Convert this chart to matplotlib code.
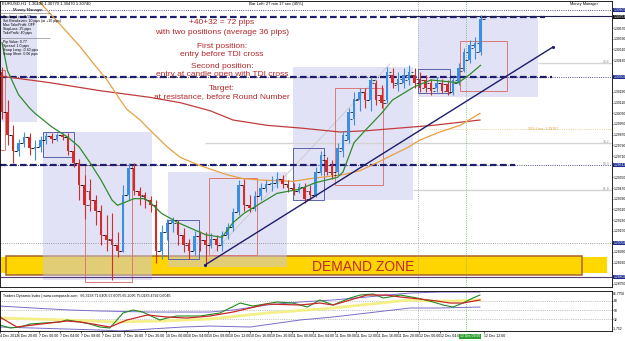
import matplotlib
matplotlib.use("Agg")
import matplotlib.pyplot as plt
from matplotlib.patches import Rectangle
import matplotlib.transforms as mtransforms
import numpy as np

plt.rcParams['font.family'] = ['Liberation Sans', 'DejaVu Sans']

# ---------------- data (EURUSD H1) ----------------
opens = [1.3034, 1.3004, 1.2987, 1.2975, 1.2981, 1.2985, 1.2977, 1.2978, 1.2983, 1.2986,
         1.2984, 1.2987, 1.2985, 1.2975, 1.2966, 1.2949, 1.2945, 1.2938, 1.2930, 1.2912,
         1.2909, 1.2904, 1.2900, 1.2942, 1.2962, 1.2945, 1.2942, 1.2938, 1.2934, 1.2900,
         1.2914, 1.2921, 1.2921, 1.2912, 1.2906, 1.2900, 1.2911, 1.2908, 1.2904, 1.2909,
         1.2904, 1.2912, 1.2918, 1.2929, 1.2949, 1.2934, 1.2932, 1.2941, 1.2947, 1.2950,
         1.2951, 1.2954, 1.2950, 1.2947, 1.2945, 1.2948, 1.2945, 1.2942, 1.2959, 1.2968,
         1.2964, 1.2959, 1.2975, 1.2983, 1.2999, 1.3013, 1.3019, 1.3013, 1.3026, 1.3017,
         1.3013, 1.3032, 1.3024, 1.3026, 1.3028, 1.3032, 1.3029, 1.3028, 1.3026, 1.3022,
         1.3026, 1.3025, 1.3019, 1.3026, 1.3035, 1.3043, 1.3052, 1.3049]
highs = [1.3038, 1.3013, 1.2994, 1.2984, 1.2989, 1.2988, 1.2983, 1.2986, 1.2989, 1.2988,
         1.2988, 1.2988, 1.2988, 1.2979, 1.2969, 1.2957, 1.2954, 1.2942, 1.2934, 1.2927,
         1.2928, 1.2914, 1.2949, 1.2966, 1.2966, 1.2948, 1.2944, 1.2941, 1.2938, 1.2919,
         1.2924, 1.2925, 1.2923, 1.2917, 1.2909, 1.2915, 1.2915, 1.2914, 1.2913, 1.2912,
         1.2915, 1.2921, 1.2932, 1.2953, 1.2954, 1.2942, 1.2945, 1.2951, 1.2953, 1.2956,
         1.2959, 1.2957, 1.2953, 1.2951, 1.2951, 1.2951, 1.2949, 1.2963, 1.2975, 1.2970,
         1.2968, 1.2981, 1.2990, 1.3007, 1.3019, 1.3022, 1.3022, 1.3030, 1.3028, 1.3024,
         1.3038, 1.3037, 1.3034, 1.3037, 1.3039, 1.3037, 1.3034, 1.3032, 1.3029, 1.3030,
         1.3029, 1.3028, 1.3030, 1.3041, 1.3052, 1.3058, 1.3060, 1.3077]
lows = [1.2999, 1.2979, 1.2966, 1.2971, 1.2978, 1.2972, 1.2968, 1.2974, 1.2980, 1.2981,
        1.2982, 1.2983, 1.2972, 1.2963, 1.2938, 1.2924, 1.2930, 1.2919, 1.2904, 1.2900,
        1.2878, 1.2895, 1.2899, 1.2938, 1.2942, 1.2934, 1.2932, 1.2929, 1.2891, 1.2894,
        1.2908, 1.2914, 1.2904, 1.2899, 1.2894, 1.2897, 1.2900, 1.2889, 1.2902, 1.2900,
        1.2900, 1.2909, 1.2915, 1.2927, 1.2930, 1.2929, 1.2930, 1.2938, 1.2944, 1.2945,
        1.2947, 1.2947, 1.2944, 1.2942, 1.2943, 1.2936, 1.2938, 1.2940, 1.2957, 1.2957,
        1.2954, 1.2957, 1.2970, 1.2981, 1.2994, 1.3005, 1.3007, 1.3005, 1.3009, 1.3007,
        1.3011, 1.3022, 1.3020, 1.3022, 1.3024, 1.3022, 1.3019, 1.3019, 1.3017, 1.3019,
        1.3018, 1.3017, 1.3017, 1.3024, 1.3034, 1.3041, 1.3044, 1.3047]
closes = [1.3004, 1.2987, 1.2975, 1.2981, 1.2985, 1.2977, 1.2978, 1.2983, 1.2986, 1.2984,
          1.2987, 1.2985, 1.2975, 1.2966, 1.2949, 1.2934, 1.2938, 1.2930, 1.2912, 1.2908,
          1.2904, 1.2900, 1.2942, 1.2962, 1.2945, 1.2941, 1.2938, 1.2934, 1.2900, 1.2914,
          1.2921, 1.2923, 1.2912, 1.2904, 1.2900, 1.2911, 1.2908, 1.2904, 1.2909, 1.2904,
          1.2912, 1.2918, 1.2929, 1.2949, 1.2934, 1.2932, 1.2941, 1.2947, 1.2950, 1.2951,
          1.2954, 1.2950, 1.2947, 1.2945, 1.2948, 1.2939, 1.2942, 1.2959, 1.2972, 1.2959,
          1.2957, 1.2977, 1.2987, 1.3004, 1.3014, 1.3019, 1.3013, 1.3028, 1.3013, 1.3011,
          1.3034, 1.3026, 1.3029, 1.3032, 1.3034, 1.3026, 1.3022, 1.3022, 1.3020, 1.3026,
          1.3020, 1.3019, 1.3028, 1.3037, 1.3049, 1.3054, 1.3056, 1.3074]

# moving averages (bar index, price)
ma_fast_bar = [0, 1, 3, 5, 6, 9, 12, 14, 16, 18, 20, 21, 24, 26, 27, 29, 32, 37, 40, 42,
               44, 46, 48, 50, 54, 57, 61, 62, 63, 64, 66, 69, 71, 75, 78, 83, 85, 87]
ma_fast = [1.3056, 1.3035, 1.3017, 1.3007, 1.3003, 1.2993, 1.2985, 1.2978, 1.2966, 1.2953,
           1.2938, 1.2934, 1.2939, 1.2939, 1.2936, 1.2928, 1.2921, 1.2912, 1.2910, 1.2921,
           1.2928, 1.2933, 1.2938, 1.2943, 1.2946, 1.2951, 1.2955, 1.2959, 1.2970, 1.2981,
           1.2990, 1.3003, 1.3013, 1.3023, 1.3028, 1.3026, 1.3032, 1.3039]
ma_mid_bar = [4.2, 6.5, 8.7, 11.8, 14.2, 16.5, 19.1, 21.5, 22.7, 25.1, 27.5, 30, 32.4, 34.7,
              37.3, 40.9, 43.8, 46.9, 52.9, 56, 62, 65.1, 68.2, 71.1, 73.6, 76, 79.6, 83.3, 86.9]
ma_mid = [1.3099, 1.3088, 1.3078, 1.3064, 1.3053, 1.3041, 1.3028, 1.3013, 1.3006, 1.2998,
          1.2988, 1.2978, 1.2970, 1.2966, 1.2962, 1.2957, 1.2954, 1.2953, 1.2952, 1.2954,
          1.2957, 1.2960, 1.2966, 1.2972, 1.2977, 1.2983, 1.2989, 1.2994, 1.3003]
ma_slow_bar = [-0.4, 8.7, 17.8, 26.9, 32.4, 37.8, 42, 48.2, 54.2, 61.5, 66.4, 72.4, 78.4, 86.9]
ma_slow = [1.3031, 1.3026, 1.3020, 1.3015, 1.3011, 1.3005, 1.2998, 1.2994, 1.2992, 1.2989,
           1.2990, 1.2992, 1.2994, 1.2998]

# Traders Dynamic Index
tdi_rsi_bar = [-0.4, 1.5, 3.3, 5.1, 7.5, 10.5, 11.8, 14.2, 16, 17.8, 19.6, 20.9, 22, 23.8,
               25.6, 27.5, 28.7, 30, 31.8, 36, 39.6, 43.3, 45.6, 50, 52.9, 55.5, 57.8, 60.2,
               63.3, 65.1, 67.5, 69.3, 72.4, 75.5, 78.4, 80.2, 82, 83.8, 85.6, 86.9]
tdi_rsi = [21.0, 15.2, 17.1, 22.9, 24.8, 26.8, 30.7, 26.8, 22.9, 17.1, 15.2, 30.7, 44.2, 50.0,
           46.1, 36.5, 30.7, 34.5, 38.4, 38.4, 44.2, 63.5, 57.7, 65.5, 63.5, 55.8, 69.4, 59.7,
           73.2, 79.0, 81.0, 73.2, 79.0, 73.2, 65.5, 59.7, 55.8, 63.5, 73.2, 79.0]
tdi_sig_bar = [-0.4, 2.7, 5.6, 11.8, 14.2, 16.5, 19.6, 22.7, 26.4, 30, 33.6, 37.8, 42, 48.2,
               54.2, 57.8, 60.2, 63.3, 66.4, 70, 72.4, 76, 79.1, 81.5, 83.8, 86.9]
tdi_sig = [36.5, 17.1, 21.0, 28.7, 26.8, 22.9, 17.1, 30.7, 40.3, 36.5, 34.5, 38.4, 46.1, 61.6,
           59.7, 63.5, 59.7, 69.4, 79.0, 79.0, 75.2, 71.3, 67.4, 63.5, 63.5, 69.4]
tdi_mid_bar = [-0.4, 11.8, 20.9, 28.7, 37.8, 48.2, 60.2, 74.2, 78.4, 82, 86.9]
tdi_mid = [34.5, 30.7, 26.8, 28.7, 32.6, 44.2, 53.9, 69.4, 67.4, 67.4, 69.4]
tdi_up_bar = [-0.4, 5.6, 12.4, 17.8, 26.9, 37.8, 42, 48.2, 54.2, 60.2, 66.4, 74.2, 79.6, 86.9]
tdi_up = [57.7, 53.9, 50.0, 48.1, 46.1, 46.1, 50.0, 59.7, 65.5, 69.4, 75.2, 82.9, 84.8, 84.8]
tdi_lo_bar = [-0.4, 5.6, 17.8, 21.5, 26.9, 32.9, 37.8, 45.1, 54.2, 60.2, 66.4, 74.2, 79.6, 86.9]
tdi_lo = [17.1, 15.2, 11.3, 9.6, 13.2, 17.1, 19.0, 17.1, 30.7, 36.5, 44.2, 53.9, 53.9, 55.8]
tdi_levels = [32, 50, 68]

time_labels = ["4 Dec 2012", "6 Dec 20:00", "7 Dec 00:00", "7 Dec 04:00", "7 Dec 08:00",
               "7 Dec 12:00", "7 Dec 16:00", "7 Dec 20:00", "10 Dec 00:00", "10 Dec 04:00",
               "10 Dec 08:00", "10 Dec 12:00", "10 Dec 16:00", "10 Dec 20:00", "11 Dec 00:00",
               "11 Dec 04:00", "11 Dec 08:00", "11 Dec 12:00", "11 Dec 16:00", "11 Dec 20:00",
               "12 Dec 00:00", "12 Dec 04:00"]
last_time_label = "12 Dec 12:00"
cursor_label = "12 Dec 09:00"

# ---------------- layout helpers (pixel -> data) ----------------
W, H = 625, 341
PXB = 5.5
def X(px):
    return (px - 2) / PXB
def Y(py):
    return 1.3088 - 0.000075 * py

fig = plt.figure(figsize=(W / 100, H / 100), dpi=100)
fig.patch.set_facecolor('white')
ax = fig.add_axes([0, 1 - 287 / H, 612 / W, 286 / H])
ax.set_xlim(X(0), X(612))
ax.set_ylim(Y(287), Y(1))

NAVY = '#1c1c6e'
lav = '#c6c6ee'

# demand zone
ax.add_patch(Rectangle((X(0), Y(273)), X(607) - X(0), Y(257) - Y(273), facecolor='#ffd800',
                       edgecolor='none', zorder=1))
ax.add_patch(Rectangle((X(6), Y(275)), X(582) - X(6), Y(256) - Y(275), facecolor='#ffd500',
                       edgecolor='#a8642a', lw=1.1, zorder=1.1))
ax.text(X(363), Y(267), "DEMAND ZONE", color='#c0282a', fontsize=10, ha='center',
        va='center', zorder=6)

# shaded boxes
for x0, y0, x1, y1 in [(0, 17, 37, 122), (43, 132, 152, 280), (168, 172, 287, 267),
                       (293, 67, 413, 200), (418, 17, 538, 97)]:
    ax.add_patch(Rectangle((X(x0), Y(y1)), X(x1) - X(x0), Y(y0) - Y(y1),
                           facecolor=lav, alpha=0.5, edgecolor='none', zorder=1.5))
for x0, y0, x1, y1 in [(85, 165, 132, 282), (209, 178, 257, 255), (335, 88, 383, 185),
                       (460, 41, 507, 91), (0, 70, 5, 150)]:
    ax.add_patch(Rectangle((X(x0), Y(y1)), X(x1) - X(x0), Y(y0) - Y(y1),
                           facecolor='none', edgecolor='#dc7878', lw=0.7, zorder=2))
for x0, y0, x1, y1 in [(43, 132, 74, 157), (168, 220, 199, 259), (293, 148, 324, 200),
                       (418, 69, 450, 93)]:
    ax.add_patch(Rectangle((X(x0), Y(y1)), X(x1) - X(x0), Y(y0) - Y(y1),
                           facecolor='none', edgecolor='#5a64a8', lw=0.7, zorder=2))

# horizontal levels
ax.hlines(Y(10), X(0), X(612), colors=NAVY, linestyles=':', lw=0.6, zorder=2)
ax.hlines(Y(17), X(0), X(545), colors=NAVY, linestyles=(0, (3, 1.5)), lw=1.6, zorder=2)
ax.hlines(Y(16), X(390), X(612), colors='#202050', lw=0.8, zorder=2)
ax.hlines(Y(77), X(0), X(612), colors=NAVY, linestyles=':', lw=0.6, zorder=2)
ax.hlines(Y(77), X(0), X(552), colors=NAVY, linestyles=(0, (3, 1.5)), lw=1.6, zorder=2)
ax.hlines(Y(165), X(0), X(612), colors=NAVY, linestyles=':', lw=0.6, zorder=2)
ax.hlines(Y(165), X(0), X(515), colors=NAVY, linestyles=(0, (3, 1.5)), lw=1.6, zorder=2)
ax.hlines(Y(243), X(0), X(612), colors='#808080', linestyles=':', lw=0.6, zorder=2)
ax.hlines(Y(277), X(0), X(612), colors='#5b3a6e', lw=0.8, zorder=2)
ax.hlines(Y(143), X(205), X(612), colors='#d4d4d4', lw=1.0, zorder=1.6)
ax.hlines(Y(190), X(413), X(612), colors='#d4d4d4', lw=1.0, zorder=1.6)
ax.hlines(Y(63), X(538), X(612), colors='#d4d4d4', lw=1.0, zorder=1.6)
ax.hlines(Y(129), X(418), X(612), colors='#f0c070', linestyles=':', lw=0.6, zorder=1.6)
ax.text(X(528), Y(131), "50% Line: 1.29707", fontsize=2.6, color='#e0a040', va='bottom')
for py, lab in [(63, "23.6"), (143, "38.2"), (165, "50.0"), (190, "61.8")]:
    ax.text(X(609), Y(py + 1), lab, fontsize=2.4, color='#909090', ha='right', va='bottom')

# vertical cursor lines
ax.axvline(X(418), color='#a0a0a0', ls=':', lw=0.6, zorder=1.7)
ax.axvline(X(466), color='#60b060', ls=':', lw=0.6, zorder=1.7)

# trend lines
ax.plot([X(205), X(553)], [Y(265), Y(47)], color=NAVY, lw=1.0, zorder=5,
        marker='o', markersize=1.2)
ax.plot([X(213), X(390)], [Y(253), Y(64)], color='#c8c8c8', lw=0.6, zorder=1.8)

# moving averages
ax.plot(ma_slow_bar, ma_slow, color='#c03c3c', lw=0.9, zorder=3)
ax.plot(ma_mid_bar, ma_mid, color='#e8a040', lw=0.9, zorder=3)
ax.plot(ma_fast_bar, ma_fast, color='#2e8b2e', lw=0.9, zorder=3.6)

# candles
idx = np.arange(len(closes))
o = np.array(opens); c = np.array(closes); h = np.array(highs); l = np.array(lows)
up = c >= o
cols = np.where(up, '#3b8fe2', '#d42a2a')
ax.vlines(idx, l, h, colors=cols, lw=0.8, zorder=3.5)
bot = np.minimum(o, c)
hei = np.maximum(np.abs(c - o), 0.00005)
ax.bar(idx, hei, bottom=bot, width=0.5, color=cols, linewidth=0, zorder=3.5)
ax.hlines(o, idx - 0.75, idx - 0.35, colors='black', lw=0.5, zorder=3.4)
ax.hlines(c, idx + 0.35, idx + 0.75, colors='black', lw=0.5, zorder=3.4)

# annotations
notes = [(23, "+40+32 = 72 pips"), (32, "with two positions (average 36 pips)"),
         (46, "First position:"), (55, "entry before TDI cross"),
         (67, "Second position:"), (75, "entry at candle open with TDI cross"),
         (89, "Target:"), (97, "at resistance, before Round Number")]
for py, t in notes:
    ax.text(X(222), Y(py), t, color='#b4282a', fontsize=6, ha='center', va='center', zorder=6)

# price axis
marked = [(10, '#1c2a8a'), (17, '#101010'), (77, '#1c2a8a'), (165, '#1c2a8a'),
          (243, '#1c2a8a'), (277, '#1c2a8a')]
ax.yaxis.tick_right()
ticks = np.round(np.arange(1.2875, 1.3086, 0.0008), 4)
keep = [t for t in ticks if all(abs(t - Y(py)) > 0.0005 for py, _ in marked)]
ax.set_yticks(keep)
ax.set_yticklabels([f"{v:.5f}" for v in keep], fontsize=2.4)
ax.tick_params(axis='y', length=1.0, width=0.4, pad=0.4)
ax.set_xticks([])
for s in ax.spines.values():
    s.set_linewidth(0.6)
tr = mtransforms.blended_transform_factory(ax.transAxes, ax.transData)
for py, fc in marked:
    ax.text(1.002, Y(py), f"{Y(py):.5f}", transform=tr, fontsize=2.4, color='white',
            va='center', ha='left', clip_on=False,
            bbox=dict(boxstyle='square,pad=0.1', fc=fc, ec='none'))

# header texts
fig.text(2 / W, 1 - 4 / H, "EURUSD,H1  1.30490 1.30770 1.30470 1.30740", fontsize=3,
         va='center')
fig.text(249 / W, 1 - 4 / H, "Bar Left: 27 min 17 sec (45%)", fontsize=3, va='center')
fig.text(13 / W, 1 - 10 / H, "Money Manager", fontsize=3, va='center')
fig.text(598 / W, 1 - 4 / H, "Money Manager", fontsize=2.8, va='center', ha='right')
info = [(17, "Trading Lots: 0.50"), (21, "Set Breakeven: 10 pips (at +10 pips)"),
        (25, "Max TakeProfit: OFF"), (29, "StopLoss: 25 pips"), (33, "TakeProfit: 40 pips"),
        (42, "Pip Value: 0.77"), (46, "Spread: 1.0 pips"), (50, "Swap Long: -0.40 pips"),
        (54, "Swap Short: 0.06 pips")]
for py, t in info:
    fig.text(3 / W, 1 - py / H, t, fontsize=2.5, va='center')
ax.hlines([Y(13), Y(38)], X(0), X(50), colors='#707070', lw=0.4, zorder=6)

# ---------------- TDI panel ----------------
ax2 = fig.add_axes([0, 1 - 331 / H, 612 / W, 40 / H])
ax2.set_xlim(X(0), X(612))
ax2.set_ylim(9.4, 86.8)
for lv in tdi_levels:
    ax2.axhline(lv, color='#909090', ls=':', lw=0.5)
ax2.axvline(X(418), color='#a0a0a0', ls=':', lw=0.6)
ax2.axvline(X(466), color='#60b060', ls=':', lw=0.6)
ax2.plot(tdi_mid_bar, tdi_mid, color='#f4ef88', lw=2.0)
ax2.plot(tdi_up_bar, tdi_up, color='#7b6cc8', lw=0.7)
ax2.plot(tdi_lo_bar, tdi_lo, color='#7b6cc8', lw=0.7)
ax2.plot(tdi_rsi_bar, tdi_rsi, color='#1f8a1f', lw=0.8)
ax2.plot(tdi_sig_bar, tdi_sig, color='#c62828', lw=0.9)
ax2.text(0.005, 0.93, "Traders Dynamic Index | www.compassfx.com   66.3238 71.6405 57.6075 "
         "65.2095 75.0183 4792 0.6045", transform=ax2.transAxes, fontsize=2.6, va='top')
ax2.yaxis.tick_right()
ax2.set_yticks(tdi_levels)
ax2.set_yticklabels([str(v) for v in tdi_levels], fontsize=2.4)
ax2.tick_params(axis='y', length=1.0, width=0.4, pad=0.4)
ax2.text(1.002, 0.92, "86.7756", transform=ax2.transAxes, fontsize=2.4, va='center')
ax2.text(1.002, 0.06, "-1.752", transform=ax2.transAxes, fontsize=2.4, va='center')
for s in ax2.spines.values():
    s.set_linewidth(0.6)
xpos = [X(0)] + [X(18 + 21.1 * (k - 1)) for k in range(1, len(time_labels))]
ax2.set_xticks(xpos + [X(484)])
ax2.set_xticklabels(time_labels + [last_time_label], fontsize=2.5, ha='left')
ax2.tick_params(axis='x', length=1.5, width=0.4, pad=1)
ax2.text(X(470), -0.08, cursor_label, transform=mtransforms.blended_transform_factory(
    ax2.transData, ax2.transAxes), fontsize=2.4, color='white', ha='center', va='top',
    bbox=dict(boxstyle='square,pad=0.15', fc='#2ea02e', ec='none'), clip_on=False, zorder=10)

fig.savefig("out.png", dpi=100, facecolor='white')
